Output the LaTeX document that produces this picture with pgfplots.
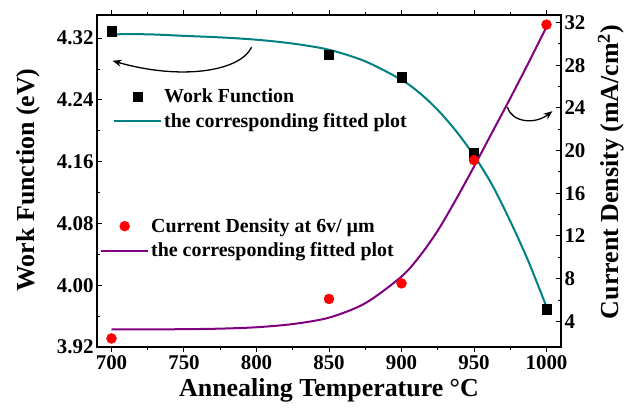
\documentclass[border=0pt]{standalone}
\usepackage{fontspec}
\setmainfont{Liberation Serif}
\usepackage{pgfplots}
\pgfplotsset{compat=1.18}
\usetikzlibrary{arrows.meta,calc}
\definecolor{fitteal}{RGB}{0,128,128}
\definecolor{fitpurple}{RGB}{128,0,128}
\newcommand{\tlfont}{\fontsize{21}{24}\selectfont\bfseries\boldmath}

\begin{document}
\begin{tikzpicture}
\pgfplotsset{
  base/.style={
    scale only axis, width=464bp, height=332bp,
    xmin=690, xmax=1010,
    clip=false,
    xticklabel style={font=\tlfont},
    yticklabel style={font=\tlfont},
    every axis label/.append style={font=\fontsize{26}{30}\selectfont\bfseries},
    major tick length=5bp, minor tick length=3bp,
    every tick/.style={line width=1bp, black},
    axis line style={line width=1.2bp},
    legend cell align=left,
    legend image code/.code={\draw[mark repeat=2,mark phase=2,#1] plot coordinates {(0bp,0bp) (23.5bp,0bp) (47bp,0bp)};},
  }
}
% left axis: work function
\begin{axis}[base,
  ymin=3.92, ymax=4.35,
  ytick={3.92,4.00,4.08,4.16,4.24,4.32},
  yticklabels={\textbf{3.92},\textbf{4.00},\textbf{4.08},\textbf{4.16},\textbf{4.24},\textbf{4.32}},
  minor y tick num=1,
  xtick={700,750,800,850,900,950,1000},
  xticklabels={\textbf{700},\textbf{750},\textbf{800},\textbf{850},\textbf{900},\textbf{950},\textbf{1000}},
  minor x tick num=1,
  ytick pos=left, ytick align=inside, xtick align=outside,
  xlabel={Annealing Temperature °C},
  ylabel={Work Function (eV)},
  xlabel style={at={(0.5,-0.13)}, anchor=center},
  ylabel style={at={(-0.148,0.503)}, anchor=center},
  legend style={draw=none, fill=none, at={(0.028,0.718)}, anchor=west, row sep=5bp,
    font=\fontsize{20}{24}\selectfont\bfseries},
]
\coordinate (bl) at (rel axis cs:0,0);
\coordinate (tr) at (rel axis cs:1,1);
\addplot[only marks, mark=square*, mark size=4.6bp, black] coordinates {
  (700,4.329)(850,4.299)(900,4.2695)(950,4.171)(1000,3.969)};
\addlegendentry{Work Function}
% fitted curve
\addplot[fitteal, line width=2bp, smooth] coordinates {
  (700,4.325)(725,4.325)(750,4.323)(775,4.321)(800,4.318)(825,4.313)
  (850,4.305)(875,4.290)(900,4.266)(912.5,4.249)(925,4.227)(937.5,4.200)
  (950,4.168)(962.5,4.130)(975,4.083)(987.5,4.031)(1000,3.972)};
\addlegendentry{the corresponding fitted plot}
% annotation arrows
\draw[-{Stealth[length=9bp,width=7bp]}, line width=1.3bp]
  (axis cs:796.6,4.3083) .. controls (axis cs:788.3,4.276) and (axis cs:746.9,4.2656) .. (axis cs:700.7,4.2907);
\draw[-{Stealth[length=9bp,width=7bp]}, line width=1.3bp]
  (axis cs:973.1,4.2307) .. controls (axis cs:975.9,4.2113) and (axis cs:991.7,4.2074) .. (axis cs:1004.1,4.2255);
\end{axis}
% right axis: current density
\begin{axis}[base,
  ymin=1.6, ymax=32.7,
  ytick={4,8,12,16,20,24,28,32},
  yticklabels={\textbf{4},\textbf{8},\textbf{12},\textbf{16},\textbf{20},\textbf{24},\textbf{28},\textbf{32}},
  minor y tick num=1,
  axis x line=none, axis y line*=right,
  ytick align=inside,
  ylabel={Current Density (mA/cm\textsuperscript{2})},
  ylabel style={at={(1.108,0.527)}, anchor=center, rotate=0},
  legend style={draw=none, fill=none, at={(0,0.327)}, anchor=west, row sep=5bp,
    font=\fontsize{20}{24}\selectfont\bfseries},
]
\addplot[only marks, mark=*, mark size=5bp, red] coordinates {
  (700,2.4)(850,6.1)(900,7.56)(950,19.1)(1000,31.8)};
\addlegendentry{Current Density at 6v/ µm}
\addplot[fitpurple, line width=2bp, smooth] coordinates {
  (700,3.25)(725,3.25)(750,3.27)(775,3.32)(800,3.45)(825,3.75)(850,4.35)
  (875,5.7)(900,8.2)(912.5,10.1)(925,12.5)(937.5,15.4)(950,18.5)
  (962.5,21.7)(975,24.9)(987.5,28.2)(1000,31.6)};
\addlegendentry{the corresponding fitted plot}
\end{axis}
\pgfresetboundingbox
\path ($(bl)+(-97bp,-61bp)$) rectangle ($(tr)+(68bp,15bp)$);
\end{tikzpicture}
\end{document}
